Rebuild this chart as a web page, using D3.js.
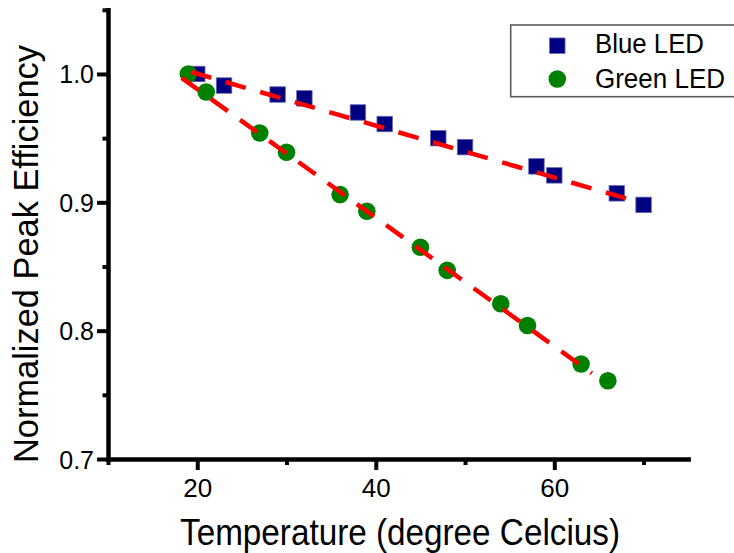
<!DOCTYPE html>
<html>
<head>
<meta charset="utf-8">
<script src="https://cdn.jsdelivr.net/npm/d3@7"></script>
<style>
  html, body { margin: 0; padding: 0; background: #fff; }
  svg { display: block; }
  text { font-family: "Liberation Sans", Arial, sans-serif; fill: #000; }
</style>
</head>
<body>
<svg id="chart" width="734" height="553"></svg>
<script>
// Measured peak efficiency (normalized) versus junction temperature
const blueTemp = [20, 23, 29, 32, 38, 41, 47, 50, 58, 60, 67, 70];
const blueEff  = [1.000, 0.991, 0.984, 0.981, 0.970, 0.961, 0.950, 0.943, 0.928, 0.921, 0.907, 0.898];
const greenTemp = [19, 21, 27, 30, 36, 39, 45, 48, 54, 57, 63, 66];
const greenEff  = [1.000, 0.986, 0.954, 0.939, 0.906, 0.893, 0.865, 0.847, 0.821, 0.804, 0.774, 0.761];

// Linear fit segments (end points)
const blueFitTemp = [19.3, 69.3];
const blueFitEff  = [1.0016, 0.9005];
const greenFitTemp = [18.25, 64.2];
const greenFitEff  = [0.997, 0.7668];

// Axis ticks and labels
const xMajorTicks = [20, 40, 60];
const xMinorTicks = [10, 30, 50, 70];
const yMajorTicks = [0.7, 0.8, 0.9, 1.0];
const yMinorTicks = [0.75, 0.85, 0.95, 1.05];
const legendLabels = ["Blue LED", "Green LED"];
const xTitle = "Temperature (degree Celcius)";
const yTitle = "Normalized Peak Efficiency";

const svg = d3.select("#chart");

const x = d3.scaleLinear().domain([10, 75]).range([108, 688.2]);
const y = d3.scaleLinear().domain([0.7, 1.05]).range([459, 9.8]);

// ---- axes ----
const gx = svg.append("g").attr("transform", `translate(0,${y(0.7)})`);
gx.call(d3.axisBottom(x).tickValues(xMajorTicks).tickSize(11).tickSizeOuter(0)
  .tickPadding(5).tickFormat(d3.format("d")));
const gxMinor = svg.append("g").attr("transform", `translate(0,${y(0.7)})`);
gxMinor.call(d3.axisBottom(x).tickValues(xMinorTicks).tickSize(6).tickSizeOuter(0).tickFormat(""));

const gy = svg.append("g").attr("transform", `translate(${x(10)},0)`);
gy.call(d3.axisLeft(y).tickValues(yMajorTicks).tickSize(11).tickSizeOuter(0)
  .tickPadding(3).tickFormat(d3.format(".1f")));
const gyMinor = svg.append("g").attr("transform", `translate(${x(10)},0)`);
gyMinor.call(d3.axisLeft(y).tickValues(yMinorTicks).tickSize(5.5).tickSizeOuter(0).tickFormat(""));

svg.selectAll(".domain").attr("stroke", "#000").attr("stroke-width", 4.5)
  .attr("stroke-linecap", "square");
svg.selectAll(".tick line").attr("stroke", "#000").attr("stroke-width", 4);
gxMinor.select(".domain").remove();
gyMinor.select(".domain").remove();

gx.selectAll(".tick text").attr("font-size", 26).attr("font-family", "Liberation Sans, Arial, sans-serif")
  .attr("dy", "0.86em");
gy.selectAll(".tick text").attr("font-size", 25).attr("font-family", "Liberation Sans, Arial, sans-serif")
  .attr("dy", "0.36em");

// ---- axis titles ----
svg.append("text")
  .attr("x", 400).attr("y", 545)
  .attr("text-anchor", "middle")
  .attr("font-size", 37)
  .attr("textLength", 440).attr("lengthAdjust", "spacingAndGlyphs")
  .text(xTitle);

svg.append("text")
  .attr("transform", "translate(38,254) rotate(-90)")
  .attr("text-anchor", "middle")
  .attr("font-size", 35)
  .attr("textLength", 418).attr("lengthAdjust", "spacingAndGlyphs")
  .text(yTitle);

// ---- data markers ----
const blue = blueTemp.map((t, i) => ({t, e: blueEff[i]}));
const green = greenTemp.map((t, i) => ({t, e: greenEff[i]}));
const sq = 15.5;

svg.append("g").selectAll("rect").data(blue).join("rect")
  .attr("x", d => x(d.t) - sq / 2)
  .attr("y", d => y(d.e) - sq / 2)
  .attr("width", sq).attr("height", sq)
  .attr("fill", "#000080")
  .attr("stroke", "#6c6cb4").attr("stroke-width", 0.8);

svg.append("g").selectAll("circle").data(green).join("circle")
  .attr("cx", d => x(d.t))
  .attr("cy", d => y(d.e))
  .attr("r", 8.8)
  .attr("fill", "#008000");

// ---- fit lines ----
const line = d3.line().x(d => x(d[0])).y(d => y(d[1]));
const fits = [
  blueFitTemp.map((t, i) => [t, blueFitEff[i]]),
  greenFitTemp.map((t, i) => [t, greenFitEff[i]])
];
svg.append("g").selectAll("path").data(fits).join("path")
  .attr("d", line)
  .attr("fill", "none")
  .attr("stroke", "#ff0000")
  .attr("stroke-width", 4.5)
  .attr("stroke-dasharray", "21,15");

// ---- legend ----
const lg = svg.append("g");
lg.append("rect")
  .attr("x", 510.7).attr("y", 25)
  .attr("width", 240).attr("height", 71.7)
  .attr("fill", "#fff")
  .attr("stroke", "#5a5a5a").attr("stroke-width", 1.6);
lg.append("rect")
  .attr("x", 557.3 - sq / 2).attr("y", 45.7 - sq / 2)
  .attr("width", sq).attr("height", sq)
  .attr("fill", "#000080")
  .attr("stroke", "#6c6cb4").attr("stroke-width", 0.8);
lg.append("circle")
  .attr("cx", 557.3).attr("cy", 79).attr("r", 8.8)
  .attr("fill", "#008000");
const legendWidths = [109, 130];
const legendBaselines = [53.3, 88.3];
lg.selectAll("text.lab").data(legendLabels).join("text")
  .attr("class", "lab")
  .attr("x", 595)
  .attr("y", (d, i) => legendBaselines[i])
  .attr("font-size", 27)
  .attr("textLength", (d, i) => legendWidths[i])
  .attr("lengthAdjust", "spacingAndGlyphs")
  .text(d => d);
</script>
</body>
</html>
